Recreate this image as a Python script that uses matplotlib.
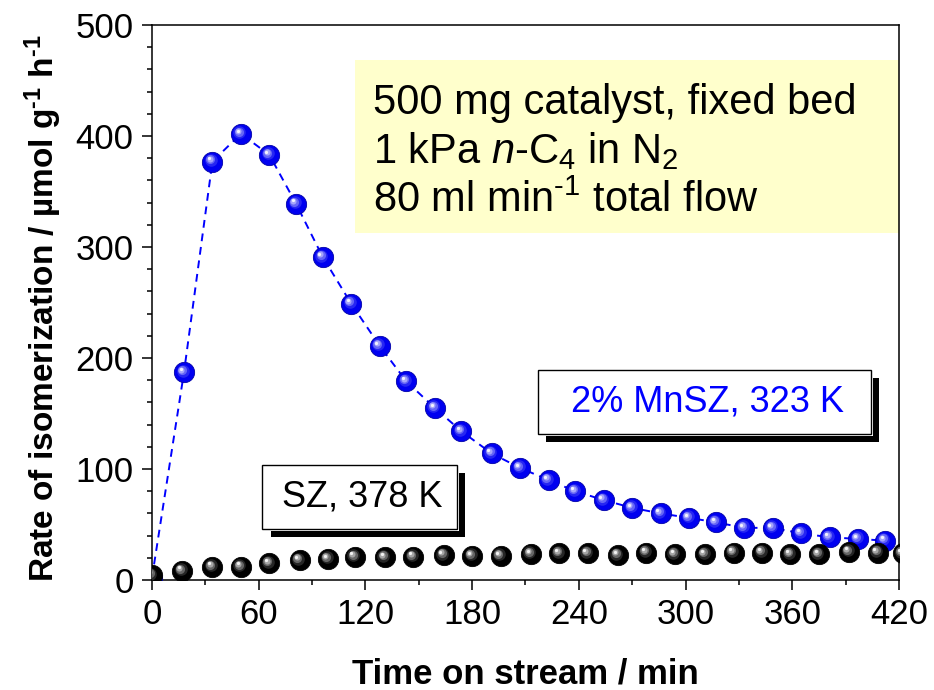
import matplotlib
matplotlib.use("Agg")
import matplotlib.pyplot as plt
import numpy as np
from matplotlib.patches import Rectangle
from matplotlib.transforms import offset_copy
from matplotlib.ticker import MultipleLocator
from matplotlib.colors import to_rgb

plt.rcParams['font.family'] = ['Liberation Sans', 'DejaVu Sans']
plt.rcParams['mathtext.fontset'] = 'custom'
plt.rcParams['mathtext.rm'] = 'Liberation Sans'
plt.rcParams['mathtext.it'] = 'Liberation Sans:italic'
plt.rcParams['mathtext.bf'] = 'Liberation Sans:bold'

# Rate of n-butane isomerization vs. time on stream
time_sz = [0, 17, 34, 50, 66, 83, 99, 114, 131, 147, 164, 180, 196, 213,
           229, 245, 262, 278, 294, 311, 327, 343, 359, 375, 392, 408, 422]
rate_sz = [4.5, 8.4, 12, 12, 15, 18, 19, 21, 20.5, 21, 22.5, 21.7, 21.7, 23.5,
           24, 24, 22.5, 24.7, 23, 23, 24.7, 24.7, 23, 23, 25.5, 24.7, 24]

time_mn = [0, 18, 34, 50, 66, 81, 96, 112, 128, 143, 159, 174, 191, 207,
           223, 238, 254, 270, 286, 302, 317, 333, 349, 365, 381, 397, 412]
rate_mn = [2, 187, 377, 402, 383, 339, 291, 249, 211, 179, 155, 134, 114, 101,
           90, 80, 72, 65, 60, 56, 52, 47, 47, 42, 38.5, 37, 35.5]

fig = plt.figure(figsize=(9.34, 6.9), dpi=100)
ax = fig.add_axes([0.1627, 0.1594, 0.7998, 0.8044])


def blend(c1, c2, t):
    a, b = np.array(to_rgb(c1)), np.array(to_rgb(c2))
    return tuple(a + (b - a) * t)


def spheres(x, y, base, light, z, ms=14.6):
    # shaded balls: solid base plus lighter discs shifted up-left
    ax.plot(x, y, 'o', ms=ms, mfc=base, mec=blend(base, 'black', 0.3),
            mew=0.6, ls='none', zorder=z)
    r = ms / 2
    for frac, mix in [(0.62, 0.15), (0.45, 0.4), (0.3, 0.65), (0.16, 0.95)]:
        shift = 0.32 * r * (1 - frac) / 0.84
        tr = offset_copy(ax.transData, fig=fig, x=-shift, y=shift, units='points')
        ax.plot(x, y, 'o', ms=ms * frac, color=blend(base, light, mix), mew=0,
                ls='none', transform=tr, zorder=z + 0.1)


ax.plot(time_mn, rate_mn, color='#0000ff', lw=1.4, ls=(0, (4, 3)), zorder=2)
spheres(time_mn, rate_mn, '#0000f0', '#ffffff', 3)
spheres(time_sz, rate_sz, '#000000', '#ffffff', 4)

ax.set_xlim(0, 420)
ax.set_ylim(0, 500)
ax.xaxis.set_major_locator(MultipleLocator(60))
ax.xaxis.set_minor_locator(MultipleLocator(30))
ax.yaxis.set_major_locator(MultipleLocator(100))
ax.yaxis.set_minor_locator(MultipleLocator(20))
ax.tick_params(which='both', direction='out', width=1.1, labelsize=25, pad=6)
ax.tick_params(which='major', length=7.2)
ax.tick_params(which='minor', length=3.6)
for s in ax.spines.values():
    s.set_linewidth(1.1)

ax.set_xlabel('Time on stream / min', fontsize=25, fontweight='bold')
ax.set_ylabel('Rate of isomerization / µmol g$^{\\mathbf{\u2010 1}}$ h$^{\\mathbf{\u2010 1}}$',
              fontsize=24, fontweight='bold')
ax.xaxis.set_label_coords(0.5, -0.14)
ax.yaxis.set_label_coords(-0.118, 0.49)

# conditions box
ax.add_patch(Rectangle((0.2718, 0.6252), 0.7282, 0.3117, transform=ax.transAxes,
                       facecolor='#ffffcc', edgecolor='none', zorder=1))
cond = ['500 mg catalyst, fixed bed',
        r'1 kPa $\mathit{n}$-C$_4$ in N$_2$',
        '80 ml min$^{\u2010 1}$ total flow']
for i, line in enumerate(cond):
    ax.text(0.2958, 0.86 - i * 0.088, line, transform=ax.transAxes,
            fontsize=30, ha='left', va='center', zorder=2)


def label_box(x0, y0, w, h, text, color):
    dx, dy = 0.0114, 0.0144
    ax.add_patch(Rectangle((x0 + dx, y0 - dy), w, h, transform=ax.transAxes,
                           facecolor='black', edgecolor='none', zorder=5))
    ax.add_patch(Rectangle((x0 - 0.003, y0 - 0.004), w + 0.006, h + 0.008,
                           transform=ax.transAxes, facecolor='white',
                           edgecolor='none', zorder=5.1))
    ax.add_patch(Rectangle((x0, y0), w, h, transform=ax.transAxes,
                           facecolor='white', edgecolor='black', lw=1.0, zorder=5.2))
    ax.text(x0 + w / 2 + 0.004, y0 + h / 2, text, transform=ax.transAxes,
            fontsize=26, color=color, ha='center', va='center', zorder=6)


label_box(0.5167, 0.2631, 0.4458, 0.1153, '2% MnSZ, 323 K', '#0000ff')
label_box(0.1473, 0.0919, 0.2610, 0.1153, 'SZ, 378 K', 'black')

fig.savefig('out.png', dpi=100)
